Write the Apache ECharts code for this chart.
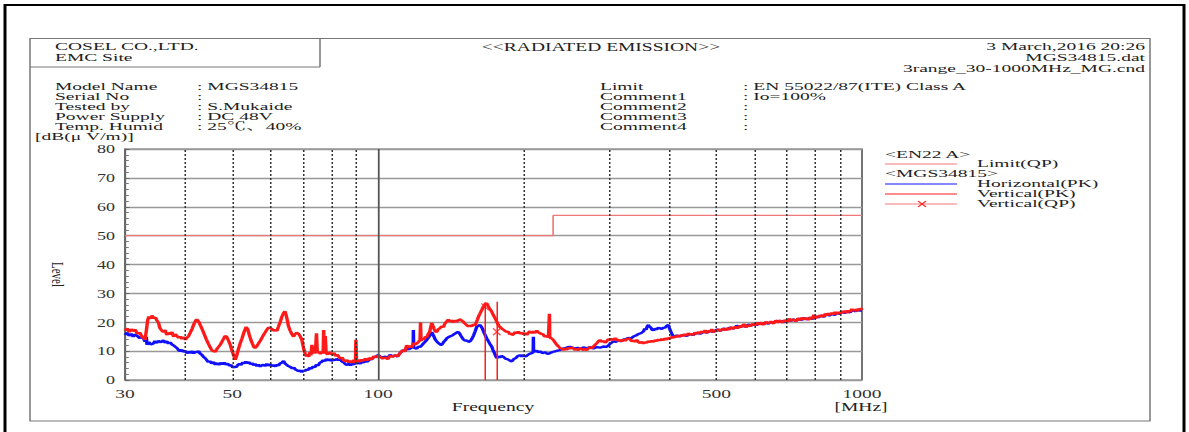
<!DOCTYPE html>
<html><head><meta charset="utf-8">
<script src="https://cdn.jsdelivr.net/npm/echarts@6/dist/echarts.min.js"></script>
<style>
html,body{margin:0;padding:0;background:#fff;overflow:hidden;}
#wrap{width:1189px;height:432px;overflow:hidden;position:relative;background:#fff;}
#c{width:793px;height:432px;transform:scaleX(1.5);transform-origin:0 0;}
</style></head><body><div id="wrap"><div id="c"></div></div>
<script>
// ---------------- data ----------------
const xTickLabels = [30, 50, 100, 500, 1000];
const dottedFreq = [40, 50, 60, 70, 80, 90, 200, 300, 400, 500, 600, 700, 800, 900];
const solidFreq = [100];
const limitFreq = [30, 230, 230, 1000];
const limitLevel = [50, 50, 57, 57];
const qpFreq = [166.4, 175.9];
const qpLevel = [25.3, 16.7];
const qpStemTop = [26.8, 27.1];

const horizontalPK = [
[30,15.6],[30.3,16.4],[30.6,15.3],[30.9,16.0],[31.2,15.0],[31.5,15.8],[31.8,15.2],[32.2,14.5],[32.5,15.2],[32.8,14.2],[33.0,13.3],[33.2,15.0],[33.3,12.2],[33.6,13.2],[33.9,12.3],[34.3,12.6],[34.6,13.5],[34.9,12.8],[35.2,13.6],[35.6,13.0],[36.0,13.8],[36.3,12.9],[36.6,13.4],[36.9,12.6],[37.2,13.1],[37.5,12.3],[37.8,12.0],[38.1,11.5],[38.4,11.1],[38.7,10.4],[39.0,9.9],[39.3,10.5],[39.6,9.8],[40.0,10.1],[40.3,9.2],[40.6,9.8],[41.0,9.4],[41.3,10.0],[41.6,9.2],[41.9,9.9],[42.2,9.5],[42.6,10.0],[42.9,9.1],[43.2,8.8],[43.6,8.0],[43.9,7.6],[44.2,7.0],[44.6,6.2],[44.9,6.6],[45.3,5.7],[45.7,6.2],[46.1,5.3],[46.5,5.9],[46.9,5.2],[47.3,6.0],[47.7,5.4],[48.1,6.0],[48.5,5.3],[48.9,5.7],[49.3,4.9],[49.7,5.2],[50.1,4.3],[50.5,4.7],[50.9,4.4],[51.3,5.2],[51.7,5.6],[52.1,5.2],[52.5,6.1],[52.9,5.7],[53.3,6.4],[53.7,5.8],[54.1,6.2],[54.5,5.5],[54.9,5.9],[55.3,5.1],[55.7,5.6],[56.2,4.8],[56.6,5.3],[57.1,4.6],[57.5,5.1],[58.0,5.3],[58.4,4.8],[58.9,5.6],[59.4,5.0],[59.9,5.4],[60.4,4.8],[60.9,5.2],[61.4,4.7],[61.8,5.3],[62.3,5.0],[62.8,5.8],[63.3,6.0],[63.8,6.6],[64.3,5.6],[64.8,5.2],[65.3,4.8],[65.9,4.5],[66.5,4.0],[67.0,4.3],[67.5,3.6],[68.0,3.4],[68.5,3.0],[69.0,3.3],[69.6,2.7],[70.1,3.4],[70.6,3.0],[71.1,3.7],[71.6,3.4],[72.2,4.2],[72.8,3.9],[73.4,4.7],[74.0,4.4],[74.6,5.3],[75.2,5.0],[75.8,6.0],[76.4,6.2],[77.0,6.9],[77.6,6.5],[78.2,7.3],[78.8,6.8],[79.4,7.2],[80.0,6.6],[80.7,7.1],[81.4,6.8],[82.1,7.3],[82.8,6.9],[83.5,7.1],[84.2,6.4],[84.9,6.1],[85.6,5.5],[86.3,5.2],[87.0,5.6],[87.7,5.1],[88.4,5.6],[89.1,5.4],[89.8,6.0],[90.5,5.6],[91.2,6.0],[91.9,5.7],[92.6,6.3],[93.3,6.0],[94.1,6.6],[94.9,6.3],[95.9,7.0],[97.0,7.2],[98.0,7.9],[99.0,8.1],[100,8.6],
[101,8.2],[102.2,7.8],[103.5,8.1],[104.7,7.6],[105.9,8.7],[107.2,8.2],[108.5,8.5],[109.8,8.1],[111.0,9.3],[112.0,9.9],[113.0,10.4],[113.8,10.0],[114.6,11.0],[115.6,10.6],[116.5,10.9],[117.4,11.3],[118.2,11.4],[118.3,17.3],[118.5,11.2],[119.4,11.0],[120.2,10.8],[121.2,11.6],[122.1,11.4],[123.1,12.0],[124.0,12.6],[125.0,13.2],[126.1,13.9],[127.0,14.6],[127.8,15.3],[128.5,16.0],[129.1,16.6],[129.8,15.8],[130.5,15.0],[131.3,14.0],[132.2,13.4],[133.0,12.9],[133.8,12.6],[134.6,12.2],[135.4,12.2],[136.2,12.8],[137.0,13.4],[137.8,13.8],[138.6,14.4],[139.7,14.8],[140.8,15.1],[142.0,15.3],[143.1,15.7],[144.0,16.0],[145.0,16.3],[145.8,16.6],[146.6,16.6],[147.5,16.0],[148.5,15.2],[149.3,14.6],[150.1,14.0],[151.3,13.6],[152.5,13.7],[153.8,13.2],[155.0,13.4],[156.2,14.2],[157.5,15.4],[158.7,16.8],[159.9,18.4],[161.2,18.8],[162.5,19.1],[163.5,18.4],[164.5,17.6],[165.5,16.5],[166.4,15.6],[167.7,14.4],[169.0,13.5],[170.4,12.4],[171.8,11.5],[172.8,10.4],[173.8,9.5],[174.8,8.5],[175.9,7.6],[177.2,8.2],[178.5,7.8],[180.0,8.3],[181.6,8.0],[183.3,7.4],[185.0,7.2],[187.0,6.8],[188.9,6.4],[190.6,7.2],[192.5,7.6],[194.5,8.3],[196.5,8.6],[198.1,8.2],[199.7,8.6],[201.3,8.1],[202.9,8.4],[204.4,8.8],[206.0,9.1],[207.7,9.3],[209.2,9.6],[209.4,15.0],[209.6,10.1],[211.2,9.8],[212.8,10.2],[214.5,9.6],[216.2,9.9],[218.8,9.3],[221.4,9.6],[224.0,9.0],[226.7,9.3],[229.3,9.7],[232.0,9.9],[234.9,10.2],[237.8,10.4],[240.6,10.9],[243.5,11.0],[246.5,11.4],[249.4,11.5],[252.5,11.1],[255.5,10.9],[258.5,11.2],[261.5,10.8],[265.7,11.3],[270.0,11.0],[274.3,11.4],[278.6,10.9],[283.0,11.4],[287.6,11.2],[292.2,11.6],[296.9,11.5],[299.3,12.0],[301.7,12.6],[304.1,13.0],[306.5,13.4],[310.0,13.2],[313.5,13.7],[317.4,13.4],[321.4,14.0],[325.2,14.2],[329.0,14.6],[333.0,14.4],[337.1,15.1],[341.0,15.4],[345.0,15.9],[349.2,16.2],[353.4,16.8],[355.7,17.8],[358.0,17.4],[360.0,18.6],[362.0,19.1],[364.0,18.4],[366.0,18.2],[368.3,17.4],[370.7,17.2],[373.6,17.8],[376.6,17.5],[379.6,18.1],[382.6,17.9],[385.6,17.6],[388.7,18.2],[391.3,18.0],[394.0,18.6],[396.0,18.9],[398.1,19.1],[400.0,18.0],[402.0,17.0],[404.8,16.0],[407.7,15.0],[413.8,15.4],[420.0,15.1],[427.0,15.6],[434.4,15.3],[441.0,15.9],[448.0,15.6],[455.5,16.3],[462.9,16.0],[470.5,16.7],[478.0,16.4],[485.5,17.0],[493.0,16.6],[501.5,17.5],[510.0,17.1],[517.5,17.8],[525.0,17.4],[533.5,18.2],[542.5,17.8],[551.0,18.8],[560.0,18.3],[567.5,18.9],[575.0,18.4],[582.5,19.2],[590.0,18.8],[598.0,19.4],[606.0,19.0],[614.0,19.8],[622.0,19.3],[631.0,19.9],[640.0,19.5],[648.0,20.0],[656.0,19.7],[665.5,20.5],[675.0,20.1],[684.0,20.4],[693.0,20.0],[702.5,20.9],[712.0,20.5],[721.0,21.0],[730.0,20.4],[740.0,21.2],[750.0,20.8],[760.0,21.4],[770.0,21.0],[780.0,21.5],[790.0,21.1],[801.0,22.0],[812.0,21.7],[823.0,22.3],[834.0,21.9],[845.0,22.7],[856.0,22.3],[867.0,22.9],[878.0,22.5],[889.0,23.2],[900.0,22.9],[911.0,23.6],[922.0,23.2],[933.5,23.8],[945.0,23.4],[956.5,24.2],[968.0,23.8],[979.0,24.3],[990.0,24.0],[1000.0,24.0]
];

const verticalPK = [
[30,17.1],[30.3,17.9],[30.6,16.6],[30.9,17.6],[31.2,16.9],[31.5,17.5],[31.8,16.0],[32.2,16.4],[32.5,15.0],[32.8,14.6],[33.0,13.9],[33.2,17.0],[33.4,20.5],[33.6,22.0],[33.9,21.2],[34.1,22.3],[34.4,21.4],[34.7,21.6],[34.9,20.6],[35.2,19.8],[35.4,18.0],[35.7,17.2],[36.0,16.6],[36.3,17.3],[36.6,15.6],[36.9,16.4],[37.2,15.8],[37.5,16.6],[37.8,15.0],[38.1,15.9],[38.4,15.3],[38.7,14.6],[39.0,15.1],[39.3,14.2],[39.6,14.9],[40.0,13.9],[40.3,14.7],[40.6,15.2],[40.9,16.3],[41.3,17.8],[41.6,19.2],[41.9,20.3],[42.2,21.0],[42.6,20.2],[42.9,19.1],[43.2,18.0],[43.6,16.4],[43.9,15.2],[44.2,14.0],[44.6,12.6],[44.9,11.6],[45.3,10.4],[45.7,10.0],[46.1,9.8],[46.5,10.8],[46.8,11.4],[47.2,12.2],[47.6,13.3],[48.0,14.4],[48.3,15.3],[48.7,14.9],[49.1,13.6],[49.5,12.2],[49.9,10.2],[50.3,8.6],[50.7,7.0],[51.0,8.2],[51.4,10.4],[51.9,12.7],[52.3,14.2],[52.8,16.4],[53.4,18.4],[53.8,17.6],[54.2,15.6],[54.6,13.9],[55.0,12.6],[55.4,11.4],[55.7,11.0],[56.1,11.6],[56.7,12.8],[57.1,13.6],[57.5,14.5],[58.0,15.6],[58.4,16.4],[58.9,17.4],[59.4,18.2],[59.9,18.0],[60.4,17.6],[60.8,17.1],[61.3,17.3],[61.8,17.0],[62.3,18.6],[62.8,20.2],[63.3,22.0],[63.8,23.2],[64.2,23.8],[64.6,22.4],[65.0,20.4],[65.3,18.6],[65.8,17.2],[66.3,16.0],[66.9,15.0],[67.4,15.9],[67.9,16.4],[68.5,16.0],[69.0,15.2],[69.6,13.9],[70.0,11.8],[70.4,10.0],[70.7,9.2],[71.1,8.2],[71.5,8.8],[71.9,8.0],[72.3,9.6],[72.7,8.6],[73.0,12.2],[73.3,9.2],[73.8,10.0],[74.2,9.2],[74.6,16.2],[74.9,9.4],[75.4,9.8],[76.0,9.0],[76.6,9.8],[77.0,9.2],[77.2,17.3],[77.5,9.8],[77.8,15.2],[78.1,9.4],[78.7,8.8],[79.3,9.6],[79.9,9.1],[80.5,8.8],[81.1,9.4],[81.7,8.3],[82.3,8.8],[83.0,8.0],[83.6,7.4],[84.3,7.8],[84.9,6.8],[85.6,6.4],[86.3,6.9],[87.0,6.1],[87.7,6.6],[88.4,6.0],[89.1,7.0],[89.8,5.9],[90.0,13.9],[90.3,6.2],[91.0,6.9],[91.9,6.3],[92.6,7.1],[93.3,6.6],[94.1,7.4],[94.9,6.8],[95.9,7.6],[97.0,7.2],[98.0,8.2],[99.0,7.8],[100,8.4],
[101,8.0],[102.2,7.4],[103.5,7.8],[104.7,7.2],[105.9,8.4],[107.2,8.0],[108.5,8.6],[109.8,8.2],[111.0,9.3],[112.5,10.4],[113.5,9.8],[114.6,12.0],[115.6,11.2],[116.5,11.8],[117.4,11.3],[118.3,12.8],[119.2,12.3],[120.2,12.6],[121.2,13.2],[122.1,13.8],[122.4,20.0],[122.7,13.6],[123.6,14.4],[124.5,14.0],[125.3,15.0],[126.1,14.8],[127.0,16.0],[127.8,16.6],[128.5,18.4],[129.1,19.8],[129.8,18.8],[130.5,17.8],[131.3,16.8],[132.2,16.6],[133.2,17.6],[134.2,17.9],[135.3,18.6],[136.5,18.3],[137.3,19.4],[138.0,19.9],[138.8,20.4],[139.7,20.9],[140.8,20.2],[142.0,20.6],[143.2,20.0],[144.3,20.7],[145.4,20.1],[146.7,20.8],[148.0,21.0],[149.0,20.5],[150.1,20.2],[151.0,19.6],[152.0,19.2],[152.9,18.8],[153.7,18.5],[154.9,18.9],[156.0,18.6],[157.3,19.2],[158.7,18.9],[159.6,20.0],[160.5,21.0],[161.5,22.2],[162.5,23.1],[163.7,24.2],[165.0,25.4],[166.0,26.0],[167.2,26.7],[168.3,26.0],[169.5,25.1],[170.6,24.4],[171.8,23.6],[172.9,22.6],[174.0,21.8],[175.0,21.0],[175.9,20.2],[177.0,19.2],[178.0,18.6],[179.1,18.2],[180.2,17.8],[181.6,17.4],[183.0,17.0],[184.4,16.6],[185.9,16.8],[187.1,15.8],[188.2,16.2],[189.3,15.6],[190.4,15.8],[192.0,16.6],[193.5,16.2],[195.0,16.8],[196.5,16.0],[198.1,16.4],[199.7,15.8],[201.3,16.3],[202.9,15.6],[204.4,16.4],[206.0,16.9],[207.7,16.2],[209.4,16.8],[211.1,16.3],[212.8,17.1],[214.5,16.5],[216.2,16.2],[217.6,15.8],[219.0,16.0],[220.2,15.3],[221.4,15.0],[222.6,15.4],[223.8,14.8],[225.0,15.1],[226.0,22.9],[226.4,14.6],[228.0,14.5],[230.4,13.8],[232.2,13.0],[234.0,12.2],[236.0,11.6],[237.8,11.0],[239.8,10.8],[241.5,10.4],[243.5,10.9],[245.5,10.5],[247.5,11.2],[249.4,10.8],[251.4,11.3],[253.3,10.9],[255.4,10.4],[257.4,10.8],[259.5,10.3],[261.5,11.1],[263.6,10.7],[265.7,10.4],[267.8,10.9],[270.0,10.3],[272.2,11.0],[274.3,11.4],[276.5,10.9],[278.6,11.6],[280.8,12.2],[283.0,12.7],[285.3,13.4],[287.6,13.9],[289.8,13.2],[292.0,13.6],[294.5,12.9],[296.9,13.4],[299.3,14.2],[301.7,13.8],[304.1,14.3],[306.5,13.8],[309.0,14.5],[311.4,14.0],[314.0,13.5],[316.4,13.9],[318.9,13.4],[321.4,14.0],[324.0,13.6],[326.6,14.1],[329.3,14.4],[332.0,14.0],[334.5,13.4],[337.1,13.7],[339.8,13.2],[342.4,13.9],[345.2,13.1],[348.0,12.8],[350.7,13.2],[353.4,12.6],[356.2,13.1],[359.0,12.9],[361.8,13.4],[364.5,13.2],[367.6,13.6],[370.7,13.2],[373.6,13.8],[376.6,13.5],[379.6,14.0],[382.6,13.7],[385.6,14.2],[388.7,13.8],[391.8,14.4],[395.0,14.0],[398.0,14.6],[401.0,14.3],[404.3,14.9],[407.7,14.6],[411.0,15.2],[414.0,14.8],[417.5,15.5],[421.0,15.0],[424.2,15.7],[427.5,15.2],[431.0,15.9],[434.4,15.4],[437.7,16.2],[441.0,15.7],[444.5,16.0],[448.0,15.6],[451.8,16.4],[455.6,16.0],[459.2,16.6],[462.9,16.1],[466.5,16.9],[470.0,16.4],[474.0,17.2],[478.0,16.3],[482.0,17.0],[486.0,16.8],[489.5,17.6],[493.0,16.5],[496.5,17.2],[500.0,16.8],[505.0,17.6],[510.0,17.0],[515.5,17.8],[521.0,17.2],[526.5,18.0],[532.0,17.4],[537.2,18.3],[542.5,17.7],[547.8,18.5],[553.0,17.9],[559.0,18.8],[565.0,18.3],[570.5,19.4],[576.0,18.2],[582.0,19.0],[588.0,18.6],[594.0,19.5],[600.0,18.9],[606.5,19.8],[613.0,19.2],[620.0,19.9],[627.0,19.1],[634.0,20.2],[641.0,19.6],[648.5,20.3],[655.9,19.5],[663.0,20.6],[670.0,19.9],[677.5,20.7],[685.0,19.8],[692.5,20.8],[700.0,20.1],[707.5,21.2],[715.0,20.5],[722.5,21.0],[730.0,20.3],[737.5,21.4],[744.9,20.7],[752.5,21.6],[760.0,20.9],[767.5,21.5],[775.0,20.8],[782.5,21.8],[790.0,21.1],[795.0,22.6],[800.0,21.3],[806.0,22.2],[812.0,21.7],[817.5,22.4],[823.0,21.8],[828.5,22.6],[834.0,21.8],[840.0,23.0],[845.7,22.4],[853.0,23.1],[860.0,22.5],[866.5,23.3],[873.0,22.7],[879.5,23.6],[886.0,22.8],[893.0,23.5],[900.0,23.0],[907.5,23.8],[915.0,23.3],[922.5,24.0],[930.0,23.2],[937.5,24.1],[945.0,23.6],[952.5,24.6],[960.0,23.9],[967.5,24.5],[975.0,23.8],[982.5,24.7],[990.0,24.2],[995.0,24.9],[1000.0,24.3]
];

// ---------------- layout helpers ----------------
const S = 1.5;                 // horizontal stretch of the original printout
const X = v => v / S;          // convert picture x to unscaled x
const FONT = '"Liberation Serif","Noto Serif CJK JP","Noto Sans CJK JP",serif';
const TXT = '#222';
function t(text, x, y, opt) {
  opt = opt || {};
  const size = opt.size || 13;
  const sx = opt.sx || 1;
  return { type: 'text', silent: true, z: 100,
    x: X(x), y: y, rotation: opt.rot || 0, scaleX: sx,
    style: { text: text, fill: opt.fill || TXT, font: size + 'px ' + FONT,
      textAlign: opt.align || 'left', textVerticalAlign: 'middle', verticalAlign: 'middle' } };
}
// small stacked texts (rows 10 px apart): smaller font, widened to keep the same width
const row = (text, x, y, align) => t(text, x, y, { size: 11, sx: 13 / 11, align: align });
function ln(x1, y1, x2, y2, color, w) {
  return { type: 'line', silent: true, z: 100,
    shape: { x1: X(x1), y1: y1, x2: X(x2), y2: y2 },
    style: { stroke: color, lineWidth: w || 1 } };
}

const C_LIMIT = '#f07878', C_RED = '#ff1a1a', C_BLUE = '#1010ff';

const leftLabels = ['Model Name', 'Serial No', 'Tested by', 'Power Supply', 'Temp. Humid'];
const leftValues = [': MGS34815', ':', ': S.Mukaide', ': DC 48V', ': 25℃、40%'];
const rightLabels = ['Limit', 'Comment1', 'Comment2', 'Comment3', 'Comment4'];
const rightValues = [': EN 55022/87(ITE) Class A', ': Io=100%', ':', ':', ':'];
const rowY = [86, 96, 106, 116, 126];

const graphics = [
  { type: 'rect', silent: true, shape: { x: X(5), y: 5, width: X(1179), height: 440 },
    style: { fill: 'none', stroke: '#000', lineWidth: 2 } },
  { type: 'rect', silent: true, shape: { x: X(30), y: 38.5, width: X(1120), height: 382.5 },
    style: { fill: 'none', stroke: '#777', lineWidth: 1 } },
  ln(30, 67, 320, 67, '#777', 1),
  ln(320, 38.5, 320, 67, '#777', 1),
  row('COSEL CO.,LTD.', 55, 46.5),
  row('EMC Site', 55, 57.5),
  t('<<RADIATED EMISSION>>', 601, 47, { align: 'center' }),
  row('3 March,2016 20:26', 1145, 46, 'right'),
  row('MGS34815.dat', 1145, 57, 'right'),
  row('3range_30-1000MHz_MG.cnd', 1145, 68, 'right'),
  row('[dB(μ V/m)]', 35, 136),
  t('Level', 57, 262, { rot: -Math.PI / 2, size: 11 }),
  t('Frequency', 493, 407, { align: 'center' }),
  t('[MHz]', 861, 407, { align: 'center' }),
  // legend
  row('<EN22 A>', 885, 154),
  ln(885, 164, 957, 164, C_LIMIT, 1.2),
  row('Limit(QP)', 977, 163.5),
  row('<MGS34815>', 885, 173.5),
  ln(885, 184, 957, 184, C_BLUE, 1.2),
  row('Horizontal(PK)', 977, 183.5),
  ln(885, 194, 957, 194, C_RED, 1.2),
  row('Vertical(PK)', 977, 193.5),
  ln(885, 204, 957, 204, C_LIMIT, 1.2),
  ln(918, 201, 926, 207, C_RED, 1),
  ln(918, 207, 926, 201, C_RED, 1),
  row('Vertical(QP)', 977, 203.5)
];
leftLabels.forEach((s, i) => graphics.push(row(s, 55, rowY[i])));
leftValues.forEach((s, i) => graphics.push(row(s, 197, rowY[i])));
rightLabels.forEach((s, i) => graphics.push(row(s, 600, rowY[i])));
rightValues.forEach((s, i) => graphics.push(row(s, 743, rowY[i])));

const chart = echarts.init(document.getElementById('c'), null, { renderer: 'svg' });
chart.setOption({
  animation: false,
  backgroundColor: '#fff',
  grid: { left: X(125), top: 149, width: X(737), height: 231, show: true,
    borderColor: '#666', borderWidth: 1.2, backgroundColor: 'transparent' },
  xAxis: {
    type: 'log', logBase: 10, min: 30, max: 1000,
    axisLine: { show: false }, axisTick: { show: false }, splitLine: { show: false },
    minorSplitLine: { show: false },
    axisLabel: { customValues: xTickLabels, formatter: v => String(Math.round(v)),
      color: '#333', fontFamily: FONT, fontSize: 13, margin: 7, showMinLabel: true, showMaxLabel: true }
  },
  yAxis: {
    type: 'value', min: 0, max: 80, interval: 10,
    axisLine: { show: true, lineStyle: { color: '#666', width: 1.2 } },
    axisTick: { show: true, inside: true, length: 3, lineStyle: { color: '#666' } },
    minorTick: { show: true, splitNumber: 5, length: 2.5, lineStyle: { color: '#777' } },
    splitLine: { show: true, lineStyle: { color: '#999', width: 1.4 } },
    axisLabel: { color: '#333', fontFamily: FONT, fontSize: 12, margin: X(10) }
  },
  graphic: graphics,
  series: [
    { type: 'line', data: [], silent: true, z: 1,
      markLine: { silent: true, symbol: ['none', 'none'], label: { show: false }, animation: false,
        lineStyle: { type: [2, 2], color: '#333', width: 1 },
        data: dottedFreq.map(f => ({ xAxis: f })) } },
    { type: 'line', data: [], silent: true, z: 1,
      markLine: { silent: true, symbol: ['none', 'none'], label: { show: false }, animation: false,
        lineStyle: { type: 'solid', color: '#555', width: 1.2 },
        data: solidFreq.map(f => ({ xAxis: f })) } },
    { name: 'Limit(QP)', type: 'line', showSymbol: false, z: 2,
      data: limitFreq.map((f, i) => [f, limitLevel[i]]),
      lineStyle: { color: C_LIMIT, width: 1.1 } },
    { name: 'Horizontal(PK)', type: 'line', showSymbol: false, z: 3,
      data: horizontalPK, lineStyle: { color: C_BLUE, width: 2.3 } },
    { name: 'Vertical(PK)', type: 'line', showSymbol: false, z: 4,
      data: verticalPK, lineStyle: { color: C_RED, width: 2.3 } },
    { name: 'Vertical(QP)', type: 'scatter', z: 5,
      data: qpFreq.map((f, i) => [f, qpLevel[i]]),
      symbol: 'path://M0,0L10,10M10,0L0,10', symbolSize: [5, 7],
      itemStyle: { color: 'none', borderColor: C_RED, borderWidth: 1 },
      markLine: { silent: true, symbol: ['none', 'none'], label: { show: false }, animation: false,
        lineStyle: { type: 'solid', color: C_RED, width: 1 },
        data: qpFreq.map((f, i) => [{ coord: [f, 0] }, { coord: [f, qpStemTop[i]] }]) } }
  ]
});
</script>
</body></html>
